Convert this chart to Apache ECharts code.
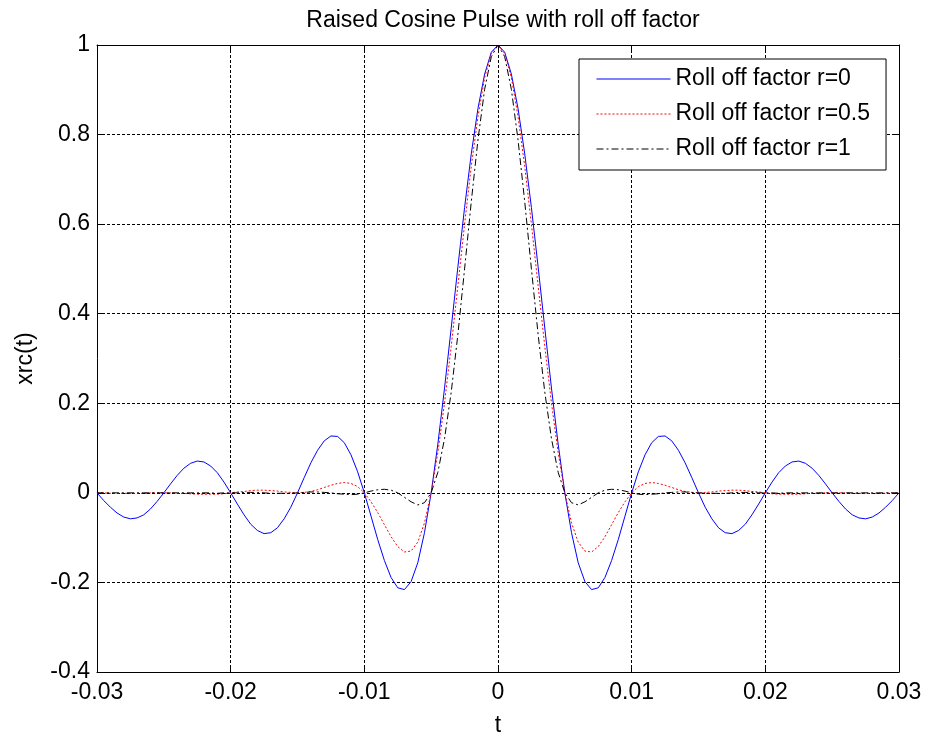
<!DOCTYPE html>
<html>
<head>
<meta charset="utf-8">
<script src="https://cdn.jsdelivr.net/npm/echarts@6/dist/echarts.min.js"></script>
<style>
  html, body { margin: 0; padding: 0; background: #fff; }
  #main { width: 928px; height: 742px; }
</style>
</head>
<body>
<div id="main"></div>
<script>
// time axis (s)
var t = [
  -0.0300, -0.0295, -0.0290, -0.0285, -0.0280, -0.0275, -0.0270, -0.0265, -0.0260, -0.0255,
  -0.0250, -0.0245, -0.0240, -0.0235, -0.0230, -0.0225, -0.0220, -0.0215, -0.0210, -0.0205,
  -0.0200, -0.0195, -0.0190, -0.0185, -0.0180, -0.0175, -0.0170, -0.0165, -0.0160, -0.0155,
  -0.0150, -0.0145, -0.0140, -0.0135, -0.0130, -0.0125, -0.0120, -0.0115, -0.0110, -0.0105,
  -0.0100, -0.0095, -0.0090, -0.0085, -0.0080, -0.0075, -0.0070, -0.0065, -0.0060, -0.0055,
  -0.0050, -0.0045, -0.0040, -0.0035, -0.0030, -0.0025, -0.0020, -0.0015, -0.0010, -0.0005,
  0,
  0.0005, 0.0010, 0.0015, 0.0020, 0.0025, 0.0030, 0.0035, 0.0040, 0.0045, 0.0050,
  0.0055, 0.0060, 0.0065, 0.0070, 0.0075, 0.0080, 0.0085, 0.0090, 0.0095, 0.0100,
  0.0105, 0.0110, 0.0115, 0.0120, 0.0125, 0.0130, 0.0135, 0.0140, 0.0145, 0.0150,
  0.0155, 0.0160, 0.0165, 0.0170, 0.0175, 0.0180, 0.0185, 0.0190, 0.0195, 0.0200,
  0.0205, 0.0210, 0.0215, 0.0220, 0.0225, 0.0230, 0.0235, 0.0240, 0.0245, 0.0250,
  0.0255, 0.0260, 0.0265, 0.0270, 0.0275, 0.0280, 0.0285, 0.0290, 0.0295, 0.0300
];

// roll off factor r=0
var r0 = [
  0, -0.017, -0.032, -0.045, -0.054, -0.058, -0.056, -0.049, -0.036, -0.019,
  0, 0.020, 0.039, 0.055, 0.066, 0.071, 0.069, 0.060, 0.045, 0.024,
  0, -0.025, -0.049, -0.070, -0.084, -0.091, -0.089, -0.078, -0.058, -0.032,
  0, 0.034, 0.067, 0.095, 0.116, 0.127, 0.126, 0.112, 0.085, 0.047,
  0, -0.052, -0.104, -0.151, -0.189, -0.212, -0.216, -0.198, -0.156, -0.089,
  0, 0.109, 0.234, 0.368, 0.505, 0.637, 0.757, 0.858, 0.935, 0.984,
  1,
  0.984, 0.935, 0.858, 0.757, 0.637, 0.505, 0.368, 0.234, 0.109, 0,
  -0.089, -0.156, -0.198, -0.216, -0.212, -0.189, -0.151, -0.104, -0.052, 0,
  0.047, 0.085, 0.112, 0.126, 0.127, 0.116, 0.095, 0.067, 0.034, 0,
  -0.032, -0.058, -0.078, -0.089, -0.091, -0.084, -0.070, -0.049, -0.025, 0,
  0.024, 0.045, 0.060, 0.069, 0.071, 0.066, 0.055, 0.039, 0.020, 0,
  -0.019, -0.036, -0.049, -0.056, -0.058, -0.054, -0.045, -0.032, -0.017, 0
];

// roll off factor r=0.5
var r05 = [
  0, 0, -0.001, -0.001, -0.001, -0.001, -0.001, -0.001, 0, 0,
  0, 0, -0.001, -0.001, -0.002, -0.003, -0.003, -0.003, -0.003, -0.002,
  0, 0.002, 0.003, 0.005, 0.006, 0.006, 0.005, 0.004, 0.002, 0.001,
  0, 0.001, 0.003, 0.007, 0.012, 0.017, 0.021, 0.023, 0.021, 0.014,
  0, -0.020, -0.044, -0.071, -0.098, -0.120, -0.132, -0.130, -0.110, -0.067,
  0, 0.090, 0.201, 0.327, 0.463, 0.600, 0.729, 0.840, 0.927, 0.981,
  1,
  0.981, 0.927, 0.840, 0.729, 0.600, 0.463, 0.327, 0.201, 0.090, 0,
  -0.067, -0.110, -0.130, -0.132, -0.120, -0.098, -0.071, -0.044, -0.020, 0,
  0.014, 0.021, 0.023, 0.021, 0.017, 0.012, 0.007, 0.003, 0.001, 0,
  0.001, 0.002, 0.004, 0.005, 0.006, 0.006, 0.005, 0.003, 0.002, 0,
  -0.002, -0.003, -0.003, -0.003, -0.003, -0.002, -0.001, -0.001, 0, 0,
  0, 0, -0.001, -0.001, -0.001, -0.001, -0.001, -0.001, 0, 0
];

// roll off factor r=1
var r1 = [
  0, 0, 0, 0, 0, 0, 0, 0, 0, 0,
  0, 0, 0, 0, 0, 0, 0, 0, -0.001, 0,
  0, 0, 0.001, 0.001, 0.001, 0, -0.001, -0.001, -0.001, -0.001,
  0, 0.001, 0.002, 0.002, 0.001, 0, -0.002, -0.003, -0.004, -0.003,
  0, 0.004, 0.007, 0.008, 0.006, 0, -0.010, -0.020, -0.027, -0.022,
  0, 0.046, 0.121, 0.225, 0.354, 0.500, 0.650, 0.788, 0.901, 0.974,
  1,
  0.974, 0.901, 0.788, 0.650, 0.500, 0.354, 0.225, 0.121, 0.046, 0,
  -0.022, -0.027, -0.020, -0.010, 0, 0.006, 0.008, 0.007, 0.004, 0,
  -0.003, -0.004, -0.003, -0.002, 0, 0.001, 0.002, 0.002, 0.001, 0,
  -0.001, -0.001, -0.001, -0.001, 0, 0.001, 0.001, 0.001, 0, 0,
  0, -0.001, 0, 0, 0, 0, 0, 0, 0, 0,
  0, 0, 0, 0, 0, 0, 0, 0, 0, 0
];

var names = ['Roll off factor r=0', 'Roll off factor r=0.5', 'Roll off factor r=1'];
var colors = ['#0000ff', '#ff0000', '#000000'];
var dashes = ['solid', [2, 2], [7, 3, 2, 3]];

function pairs (ys) {
  return t.map(function (x, i) { return [x, ys[i]]; });
}

var font = "'Liberation Sans', Arial, Helvetica, sans-serif";
var fs = 23;

var myChart = echarts.init(document.getElementById('main'));
var option = {
  animation: false,
  backgroundColor: '#fff',
  textStyle: { fontFamily: font },
  title: {
    text: 'Raised Cosine Pulse with roll off factor',
    left: 498,
    textAlign: 'center',
    top: 4,
    textStyle: { fontSize: fs, fontWeight: 'normal', color: '#000', fontFamily: font }
  },
  legend: {
    orient: 'vertical',
    left: 579,
    top: 59,
    padding: [8, 16, 9, 17],
    itemWidth: 74,
    itemHeight: 24,
    itemGap: 11,
    itemStyle: { opacity: 0 },
    backgroundColor: '#fff',
    borderColor: '#000',
    borderWidth: 1,
    borderRadius: 0,
    textStyle: { fontSize: fs, color: '#000', fontFamily: font, lineHeight: 24 },
    data: names.map(function (n, i) {
      return { name: n, lineStyle: { color: colors[i], width: 1, type: dashes[i] } };
    })
  },
  grid: { left: 97, right: 29, top: 45, bottom: 65 },
  xAxis: [{
    type: 'value',
    min: -0.03,
    max: 0.03,
    interval: 0.01,
    name: 't',
    nameLocation: 'middle',
    nameGap: 42,
    nameTextStyle: { fontSize: fs, color: '#000', fontFamily: font },
    axisLine: { onZero: false, lineStyle: { color: '#000', width: 1 } },
    axisTick: { inside: true, length: 6, lineStyle: { color: '#000' } },
    axisLabel: { fontSize: fs, color: '#000', margin: 9, fontFamily: font },
    splitLine: { show: true, lineStyle: { color: '#000', type: [3, 2], width: 1 } }
  }, {
    type: 'value',
    position: 'top',
    min: -0.03,
    max: 0.03,
    interval: 0.01,
    axisLine: { onZero: false, lineStyle: { color: '#000', width: 1 } },
    axisTick: { inside: true, length: 6, lineStyle: { color: '#000' } },
    axisLabel: { show: false },
    splitLine: { show: false }
  }],
  yAxis: [{
    type: 'value',
    min: -0.4,
    max: 1,
    interval: 0.2,
    name: 'xrc(t)',
    nameLocation: 'middle',
    nameGap: 60,
    nameTextStyle: { fontSize: fs, color: '#000', fontFamily: font },
    axisLine: { onZero: false, lineStyle: { color: '#000', width: 1 } },
    axisTick: { inside: true, length: 6, lineStyle: { color: '#000' } },
    axisLabel: { fontSize: fs, color: '#000', margin: 7, fontFamily: font },
    splitLine: { show: true, lineStyle: { color: '#000', type: [3, 2], width: 1 } }
  }, {
    type: 'value',
    position: 'right',
    min: -0.4,
    max: 1,
    interval: 0.2,
    axisLine: { onZero: false, lineStyle: { color: '#000', width: 1 } },
    axisTick: { inside: true, length: 6, lineStyle: { color: '#000' } },
    axisLabel: { show: false },
    splitLine: { show: false }
  }],
  series: [r0, r05, r1].map(function (ys, i) {
    return {
      name: names[i],
      type: 'line',
      data: pairs(ys),
      symbol: 'none',
      color: colors[i],
      lineStyle: { type: dashes[i], color: colors[i], width: 1 }
    };
  })
};
myChart.setOption(option);
</script>
</body>
</html>
